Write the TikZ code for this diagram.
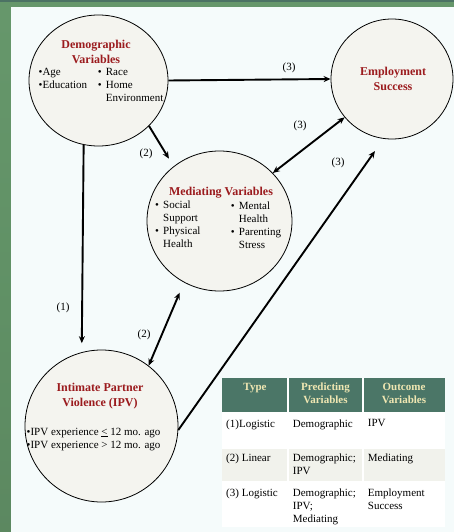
\documentclass[tikz,border=0pt]{standalone}
\usepackage{fontspec}
\setmainfont{Liberation Serif}
\usetikzlibrary{shapes.geometric,arrows.meta}
\definecolor{slidegreen}{HTML}{66976B}
\definecolor{slidedark}{HTML}{3E6B44}
\definecolor{slidetop}{HTML}{4C7264}
\definecolor{panelbg}{HTML}{F5FBFB}
\definecolor{bubblefill}{HTML}{F4F4EF}
\definecolor{titlered}{HTML}{9B1B1E}
\definecolor{headfill}{HTML}{4B7667}
\definecolor{headtext}{HTML}{F0E7B2}
\definecolor{rowshade}{HTML}{F1F2EC}
\newcommand{\bl}{\makebox[8pt][l]{\textbullet}}
\newcommand{\nobl}{\makebox[8pt][l]{}}
\begin{document}
\begin{tikzpicture}[x=1pt,y=-1pt,
    bubble/.style={draw, ellipse, fill=bubblefill, line width=0.8pt, inner sep=0pt},
    vartitle/.style={font=\fontsize{12}{15}\selectfont\bfseries, text=titlered, align=center, inner sep=0pt},
    varlist/.style={font=\fontsize{11}{13}\selectfont, align=left, anchor=north west, inner sep=0pt},
    arr/.style={line width=1.9pt, -{Stealth[length=7pt,width=6pt]}},
    darr/.style={line width=1.9pt, {Stealth[length=7pt,width=6pt]}-{Stealth[length=7pt,width=6pt]}},
    lbl/.style={font=\fontsize{11}{13}\selectfont, inner sep=0pt},
    head/.style={font=\fontsize{11}{13}\selectfont\bfseries, text=headtext, align=center, anchor=north, inner sep=0pt},
    cell/.style={font=\fontsize{11}{13}\selectfont, align=left, anchor=north west, inner sep=0pt}]
  \useasboundingbox (0,0) rectangle (454,532);
  % slide background
  \fill[slidegreen] (0,0) rectangle (454,532);
  \fill[slidetop] (0,0) rectangle (454,2);
  \shade[top color=slidegreen, bottom color=slidegreen!85!slidedark] (0,7) rectangle (11,300);
  \shade[top color=slidegreen!85!slidedark, middle color=slidedark, bottom color=slidegreen!90!black] (0,300) rectangle (11,532);
  \fill[panelbg] (11,7) rectangle (454,532);

  % variable groups
  \node[bubble, minimum width=139pt, minimum height=131pt] (demo) at (98.5,80.5) {};
  \node[bubble, minimum width=122pt, minimum height=120pt] (emp) at (392,79) {};
  \node[bubble, minimum width=145pt, minimum height=140pt] (med) at (219.5,221) {};
  \node[bubble, minimum width=153pt, minimum height=152pt] (ipv) at (101.5,426) {};

  \node[vartitle] (demotitle) at (96,51.5) {Demographic\\Variables};
  \node[varlist] (demoleft) at (38.5,68) {\textbullet Age\\\textbullet Education};
  \node[varlist] (demoright) at (97.7,68) {\bl Race\\\bl Home\\\nobl Environment};

  \node[vartitle] (emptitle) at (393,78.5) {Employment\\Success};

  \node[vartitle] (medtitle) at (221,192.5) {Mediating Variables};
  \node[varlist] (medleft) at (155,201) {\bl Social\\\nobl Support\\\bl Physical\\\nobl Health};
  \node[varlist] (medright) at (230.7,202) {\bl Mental\\\nobl Health\\\bl Parenting\\\nobl Stress};

  \node[vartitle] (ipvtitle) at (100,396.3) {Intimate Partner\\Violence (IPV)};
  \node[varlist] (ipvlist) at (26.5,427.7) {\textbullet IPV experience \underline{<} 12 mo. ago\\\textbullet IPV experience > 12 mo. ago};

  % paths
  \draw[arr] (demo.east) -- (emp.west);
  \draw[arr, shorten >=9pt] (demo.-42) -- (med.130);
  \draw[darr] (med.42) -- (emp.219);
  \draw[arr, shorten >=15pt] (ipv.-3) -- (emp.262);
  \draw[arr, shorten >=9pt] (demo.257) -- (ipv.105);
  \draw[darr, shorten <=11pt] (med.240) -- (ipv.52);

  \node[lbl] (labdemoemp) at (289,68) {(3)};
  \node[lbl] (labdemomed) at (146,154) {(2)};
  \node[lbl] (labmedemp) at (300,126) {(3)};
  \node[lbl] (labipvemp) at (338,163) {(3)};
  \node[lbl] (labdemoipv) at (63,308) {(1)};
  \node[lbl] (labmedipv) at (144,335) {(2)};

  % model table
  \fill[headfill] (222,378) rectangle (445,413);
  \fill[white] (222,413) rectangle (445,448);
  \fill[rowshade] (222,448) rectangle (445,482);
  \fill[white] (222,482) rectangle (445,527);
  \draw[white, line width=1.5pt] (288,378) -- (288,527) (363,378) -- (363,527)
    (222,413) -- (445,413) (222,448) -- (445,448) (222,482) -- (445,482);

  \node[head] (htype) at (255,383) {Type};
  \node[head] (hpred) at (325.5,383) {Predicting\\Variables};
  \node[head] (hout) at (404,383) {Outcome\\Variables};

  \node[cell] (typeone) at (226,419.3) {(1)Logistic};
  \node[cell] (predone) at (292.7,419.3) {Demographic};
  \node[cell] (outone) at (367.7,419.3) {IPV};

  \node[cell] (typetwo) at (226,453.7) {(2) Linear};
  \node[cell] (predtwo) at (292.7,453.7) {Demographic;\\IPV};
  \node[cell] (outtwo) at (367.7,453.7) {Mediating};

  \node[cell] (typethree) at (226,488.7) {(3) Logistic};
  \node[cell] (predthree) at (292.7,488.7) {Demographic;\\IPV;\\Mediating};
  \node[cell] (outthree) at (367.7,488.7) {Employment\\Success};
\end{tikzpicture}
\end{document}
